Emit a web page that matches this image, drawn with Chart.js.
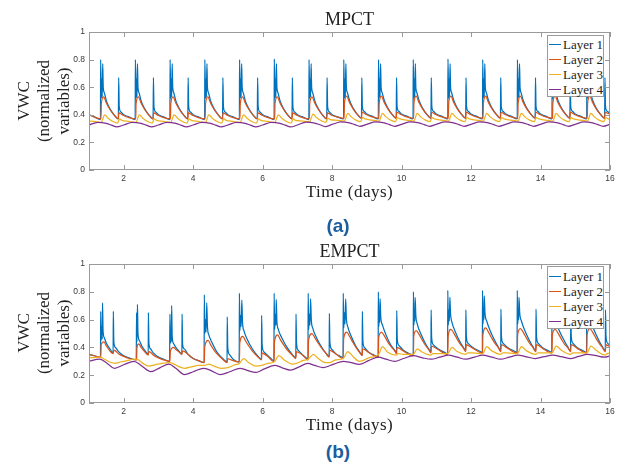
<!DOCTYPE html>
<html>
<head>
<meta charset="utf-8">
<script src="https://cdn.jsdelivr.net/npm/chart.js@4.4.0/dist/chart.umd.min.js"></script>
<style>
  body { margin: 0; width: 625px; height: 464px; background: #fff; position: relative; overflow: hidden; font-family: "Liberation Serif", serif; color: #222; }
  .wrap { position: absolute; left: 0; width: 625px; }
  .title { position: absolute; left: 89px; width: 521px; text-align: center; font-size: 18px; line-height: 18px; }
  .xlabel { position: absolute; left: 89px; width: 521px; text-align: center; font-size: 17px; line-height: 17px; letter-spacing: 0.5px; }
  .ylabel { position: absolute; width: 160px; height: 60px; text-align: center; font-size: 17px; line-height: 20px; transform: rotate(-90deg); }
  .tag { position: absolute; left: 288px; width: 100px; text-align: center; font-family: "Liberation Sans", Arial, sans-serif; font-weight: bold; font-size: 19px; line-height: 19px; color: #1b5e9e; }
  .legend { position: absolute; left: 547px; width: 57px; background: #fff; border: 1px solid #9a9a9a; box-sizing: border-box; }
  .legend .row { display: flex; align-items: center; height: 15px; }
  .legend .swatch { width: 14px; height: 1.5px; margin-left: 1px; }
  .legend .txt { margin-left: 2px; font-size: 13px; line-height: 15px; white-space: nowrap; }
</style>
</head>
<body>
<div class="wrap" style="top:0;height:190px"><canvas id="chartA" width="625" height="190"></canvas></div>
<div class="wrap" style="top:232px;height:191px"><canvas id="chartB" width="625" height="191"></canvas></div>

<div class="title" style="top:10px">MPCT</div>
<div class="xlabel" style="top:183px">Time (days)</div>
<div class="ylabel" style="left:-36px;top:71px">VWC<br>(normalized<br>variables)</div>
<div class="tag" style="top:216px">(a)</div>
<div class="legend" id="legendA" style="top:35px;height:62px;padding-top:1px"></div>

<div class="title" style="top:242px">EMPCT</div>
<div class="xlabel" style="top:416px">Time (days)</div>
<div class="ylabel" style="left:-36px;top:303px">VWC<br>(normalized<br>variables)</div>
<div class="tag" style="top:442px">(b)</div>
<div class="legend" id="legendB" style="top:266px;height:63px;padding-top:2px"></div>

<script>
const layerNames = ['Layer 1', 'Layer 2', 'Layer 3', 'Layer 4'];
const layerColors = ['#0072BD', '#D95319', '#EDB120', '#7E2F8E'];
const xTickValues = [2, 4, 6, 8, 10, 12, 14, 16];
const yTickValues = [0, 0.2, 0.4, 0.6, 0.8, 1];
const yTickLabels = ['0', '0.2', '0.4', '0.6', '0.8', '1'];

// MPCT, [time (days), VWC]
const mpctLayer1 = [
  [1.00,.40],[1.15,.385],
  [1.33,.365],[1.335,.80],[1.355,.52],[1.37,.66],[1.38,.53],[1.395,.77],[1.41,.60],[1.44,.56],[1.50,.50],[1.60,.445],[1.72,.40],[1.845,.37],[1.855,.67],[1.87,.46],[1.92,.42],[2.00,.40],[2.15,.385],
  [2.33,.365],[2.335,.80],[2.355,.52],[2.37,.66],[2.38,.53],[2.395,.77],[2.41,.60],[2.44,.56],[2.50,.50],[2.60,.445],[2.72,.40],[2.845,.37],[2.855,.67],[2.87,.46],[2.92,.42],[3.00,.40],[3.15,.385],
  [3.33,.365],[3.335,.80],[3.355,.52],[3.37,.66],[3.38,.53],[3.395,.77],[3.41,.60],[3.44,.56],[3.50,.50],[3.60,.445],[3.72,.40],[3.845,.37],[3.855,.67],[3.87,.46],[3.92,.42],[4.00,.40],[4.15,.385],
  [4.33,.365],[4.335,.80],[4.355,.52],[4.37,.66],[4.38,.53],[4.395,.77],[4.41,.60],[4.44,.56],[4.50,.50],[4.60,.445],[4.72,.40],[4.845,.37],[4.855,.67],[4.87,.46],[4.92,.42],[5.00,.40],[5.15,.385],
  [5.33,.365],[5.335,.80],[5.355,.52],[5.37,.66],[5.38,.53],[5.395,.77],[5.41,.60],[5.44,.56],[5.50,.50],[5.60,.445],[5.72,.40],[5.845,.37],[5.855,.67],[5.87,.46],[5.92,.42],[6.00,.40],[6.15,.385],
  [6.33,.365],[6.335,.805],[6.355,.52],[6.37,.66],[6.38,.53],[6.395,.77],[6.41,.60],[6.44,.56],[6.50,.50],[6.60,.445],[6.72,.40],[6.845,.37],[6.855,.67],[6.87,.46],[6.92,.42],[7.00,.40],[7.15,.385],
  [7.33,.365],[7.335,.80],[7.355,.52],[7.37,.66],[7.38,.53],[7.395,.77],[7.41,.60],[7.44,.56],[7.50,.50],[7.60,.445],[7.72,.40],[7.845,.37],[7.855,.67],[7.87,.46],[7.92,.42],[8.00,.40],[8.15,.385],
  [8.33,.37],[8.335,.80],[8.355,.52],[8.37,.66],[8.38,.53],[8.395,.77],[8.41,.60],[8.44,.56],[8.50,.505],[8.60,.45],[8.72,.405],[8.845,.375],[8.855,.67],[8.87,.46],[8.92,.425],[9.00,.405],[9.15,.39],
  [9.33,.37],[9.335,.80],[9.355,.52],[9.37,.66],[9.38,.53],[9.395,.77],[9.41,.60],[9.44,.56],[9.50,.505],[9.60,.45],[9.72,.405],[9.845,.375],[9.855,.67],[9.87,.46],[9.92,.425],[10.00,.405],[10.15,.39],
  [10.33,.37],[10.335,.80],[10.355,.52],[10.37,.66],[10.38,.53],[10.395,.77],[10.41,.60],[10.44,.56],[10.50,.505],[10.60,.45],[10.72,.405],[10.845,.375],[10.855,.67],[10.87,.46],[10.92,.425],[11.00,.405],[11.15,.39],
  [11.33,.37],[11.335,.805],[11.355,.52],[11.37,.66],[11.38,.53],[11.395,.77],[11.41,.60],[11.44,.56],[11.50,.505],[11.60,.45],[11.72,.405],[11.845,.375],[11.855,.67],[11.87,.46],[11.92,.425],[12.00,.405],[12.15,.39],
  [12.33,.37],[12.335,.80],[12.355,.52],[12.37,.66],[12.38,.53],[12.395,.77],[12.41,.60],[12.44,.56],[12.50,.505],[12.60,.45],[12.72,.405],[12.845,.375],[12.855,.67],[12.87,.46],[12.92,.425],[13.00,.405],[13.15,.39],
  [13.33,.37],[13.335,.80],[13.355,.52],[13.37,.66],[13.38,.53],[13.395,.77],[13.41,.60],[13.44,.56],[13.50,.505],[13.60,.45],[13.72,.405],[13.845,.375],[13.855,.67],[13.87,.46],[13.92,.425],[14.00,.405],[14.15,.39],
  [14.33,.37],[14.335,.80],[14.355,.52],[14.37,.66],[14.38,.53],[14.395,.77],[14.41,.60],[14.44,.56],[14.50,.505],[14.60,.45],[14.72,.405],[14.845,.375],[14.855,.67],[14.87,.46],[14.92,.425],[15.00,.405],[15.15,.39],
  [15.33,.37],[15.335,.80],[15.355,.52],[15.37,.66],[15.38,.53],[15.395,.77],[15.41,.60],[15.44,.56],[15.50,.505],[15.60,.45],[15.72,.405],[15.845,.375],[15.855,.67],[15.87,.46],[15.92,.425],[16.00,.41]
];
const mpctLayer2 = [
  [1.00,.40],[1.15,.385],
  [1.345,.37],[1.355,.48],[1.42,.53],[1.50,.485],[1.60,.44],[1.72,.40],[1.845,.37],[1.86,.415],[1.90,.41],[2.00,.395],[2.15,.38],
  [2.345,.37],[2.355,.48],[2.42,.53],[2.50,.485],[2.60,.44],[2.72,.40],[2.845,.37],[2.86,.415],[2.90,.41],[3.00,.395],[3.15,.38],
  [3.345,.37],[3.355,.48],[3.42,.53],[3.50,.485],[3.60,.44],[3.72,.40],[3.845,.37],[3.86,.415],[3.90,.41],[4.00,.395],[4.15,.38],
  [4.345,.37],[4.355,.48],[4.42,.53],[4.50,.485],[4.60,.44],[4.72,.40],[4.845,.37],[4.86,.415],[4.90,.41],[5.00,.395],[5.15,.38],
  [5.345,.37],[5.355,.48],[5.42,.53],[5.50,.485],[5.60,.44],[5.72,.40],[5.845,.37],[5.86,.415],[5.90,.41],[6.00,.395],[6.15,.38],
  [6.345,.37],[6.355,.48],[6.42,.53],[6.50,.485],[6.60,.44],[6.72,.40],[6.845,.37],[6.86,.415],[6.90,.41],[7.00,.395],[7.15,.38],
  [7.345,.37],[7.355,.48],[7.42,.53],[7.50,.485],[7.60,.44],[7.72,.40],[7.845,.37],[7.86,.415],[7.90,.41],[8.00,.395],[8.15,.385],
  [8.345,.375],[8.355,.485],[8.42,.535],[8.50,.49],[8.60,.445],[8.72,.405],[8.845,.375],[8.86,.42],[8.90,.415],[9.00,.40],[9.15,.385],
  [9.345,.375],[9.355,.485],[9.42,.535],[9.50,.49],[9.60,.445],[9.72,.405],[9.845,.375],[9.86,.42],[9.90,.415],[10.00,.40],[10.15,.385],
  [10.345,.375],[10.355,.485],[10.42,.535],[10.50,.49],[10.60,.445],[10.72,.405],[10.845,.375],[10.86,.42],[10.90,.415],[11.00,.40],[11.15,.385],
  [11.345,.375],[11.355,.485],[11.42,.535],[11.50,.49],[11.60,.445],[11.72,.405],[11.845,.375],[11.86,.42],[11.90,.415],[12.00,.40],[12.15,.385],
  [12.345,.375],[12.355,.485],[12.42,.535],[12.50,.49],[12.60,.445],[12.72,.405],[12.845,.375],[12.86,.42],[12.90,.415],[13.00,.40],[13.15,.385],
  [13.345,.375],[13.355,.485],[13.42,.535],[13.50,.49],[13.60,.445],[13.72,.405],[13.845,.375],[13.86,.42],[13.90,.415],[14.00,.40],[14.15,.385],
  [14.345,.375],[14.355,.485],[14.42,.535],[14.50,.49],[14.60,.445],[14.72,.405],[14.845,.375],[14.86,.42],[14.90,.415],[15.00,.40],[15.15,.385],
  [15.345,.375],[15.355,.485],[15.42,.535],[15.50,.49],[15.60,.445],[15.72,.405],[15.845,.375],[15.86,.42],[15.90,.415],[16.00,.405]
];
const mpctLayer3 = [
  [1.00,.355],[1.15,.352],
  [1.35,.345],[1.45,.40],[1.55,.375],[1.70,.35],[1.82,.34],[1.88,.37],[1.95,.36],[2.15,.352],
  [2.35,.345],[2.45,.40],[2.55,.375],[2.70,.35],[2.82,.34],[2.88,.37],[2.95,.36],[3.15,.352],
  [3.35,.345],[3.45,.40],[3.55,.375],[3.70,.35],[3.82,.34],[3.88,.37],[3.95,.36],[4.15,.352],
  [4.35,.345],[4.45,.40],[4.55,.375],[4.70,.35],[4.82,.34],[4.88,.37],[4.95,.36],[5.15,.352],
  [5.35,.345],[5.45,.40],[5.55,.375],[5.70,.35],[5.82,.34],[5.88,.37],[5.95,.36],[6.15,.352],
  [6.35,.345],[6.45,.40],[6.55,.375],[6.70,.35],[6.82,.34],[6.88,.37],[6.95,.36],[7.15,.355],
  [7.35,.35],[7.45,.405],[7.55,.38],[7.70,.355],[7.82,.345],[7.88,.375],[7.95,.365],[8.15,.36],
  [8.35,.355],[8.45,.41],[8.55,.385],[8.70,.36],[8.82,.35],[8.88,.38],[8.95,.37],[9.15,.362],
  [9.35,.355],[9.45,.41],[9.55,.385],[9.70,.36],[9.82,.35],[9.88,.38],[9.95,.37],[10.15,.362],
  [10.35,.355],[10.45,.41],[10.55,.385],[10.70,.36],[10.82,.35],[10.88,.38],[10.95,.37],[11.15,.362],
  [11.35,.355],[11.45,.41],[11.55,.385],[11.70,.36],[11.82,.35],[11.88,.38],[11.95,.37],[12.15,.362],
  [12.35,.355],[12.45,.41],[12.55,.385],[12.70,.36],[12.82,.35],[12.88,.38],[12.95,.37],[13.15,.362],
  [13.35,.355],[13.45,.41],[13.55,.385],[13.70,.36],[13.82,.35],[13.88,.38],[13.95,.37],[14.15,.362],
  [14.35,.355],[14.45,.41],[14.55,.385],[14.70,.36],[14.82,.35],[14.88,.38],[14.95,.37],[15.15,.362],
  [15.35,.355],[15.45,.41],[15.55,.385],[15.70,.36],[15.82,.35],[15.88,.38],[15.95,.37],[16.00,.368]
];
const mpctLayer4 = [
  [1.00,.326],
  [1.25,.345],[1.50,.338],[1.65,.325],[1.80,.312],[2.00,.326],
  [2.25,.345],[2.50,.338],[2.65,.325],[2.80,.312],[3.00,.326],
  [3.25,.345],[3.50,.338],[3.65,.325],[3.80,.312],[4.00,.326],
  [4.25,.345],[4.50,.338],[4.65,.325],[4.80,.312],[5.00,.326],
  [5.25,.345],[5.50,.338],[5.65,.325],[5.80,.312],[6.00,.326],
  [6.25,.345],[6.50,.338],[6.65,.325],[6.80,.312],[7.00,.326],
  [7.25,.347],[7.50,.34],[7.65,.328],[7.80,.315],[8.00,.33],
  [8.25,.348],[8.50,.341],[8.65,.329],[8.80,.317],[9.00,.331],
  [9.25,.348],[9.50,.341],[9.65,.329],[9.80,.317],[10.00,.331],
  [10.25,.348],[10.50,.341],[10.65,.329],[10.80,.317],[11.00,.331],
  [11.25,.348],[11.50,.341],[11.65,.329],[11.80,.317],[12.00,.331],
  [12.25,.348],[12.50,.341],[12.65,.329],[12.80,.317],[13.00,.331],
  [13.25,.348],[13.50,.341],[13.65,.329],[13.80,.317],[14.00,.331],
  [14.25,.348],[14.50,.341],[14.65,.329],[14.80,.317],[15.00,.331],
  [15.25,.348],[15.50,.341],[15.65,.329],[15.80,.317],[16.00,.331]
];

// EMPCT, [time (days), VWC]
const empctLayer1 = [
  [1.00,.35],[1.15,.34],
  [1.33,.33],[1.337,.66],[1.35,.45],[1.37,.55],[1.38,.46],[1.39,.72],[1.405,.52],[1.44,.47],[1.50,.43],[1.60,.39],[1.695,.36],[1.70,.66],[1.715,.44],[1.76,.40],[1.85,.37],[2.00,.34],[2.15,.325],
  [2.36,.31],[2.37,.65],[2.38,.44],[2.395,.71],[2.41,.50],[2.45,.45],[2.52,.41],[2.60,.38],[2.705,.35],[2.71,.65],[2.725,.43],[2.77,.39],[2.85,.36],[3.00,.33],[3.15,.315],
  [3.32,.30],[3.33,.64],[3.345,.43],[3.36,.52],[3.37,.44],[3.38,.70],[3.395,.48],[3.43,.43],[3.50,.40],[3.60,.37],[3.675,.35],[3.68,.64],[3.695,.42],[3.74,.39],[3.85,.35],[4.00,.32],[4.15,.305],
  [4.315,.29],[4.32,.78],[4.335,.50],[4.355,.60],[4.37,.51],[4.39,.72],[4.41,.55],[4.45,.49],[4.55,.43],[4.70,.36],[4.85,.32],[4.975,.295],[4.98,.62],[4.995,.40],[5.04,.35],[5.15,.315],[5.30,.295],
  [5.325,.295],[5.33,.79],[5.345,.52],[5.365,.63],[5.38,.55],[5.40,.74],[5.42,.58],[5.46,.52],[5.55,.46],[5.70,.39],[5.85,.34],[5.965,.315],[5.97,.63],[5.985,.42],[6.03,.37],[6.15,.34],[6.30,.305],
  [6.325,.30],[6.33,.79],[6.345,.53],[6.365,.64],[6.38,.56],[6.39,.745],[6.41,.59],[6.45,.53],[6.55,.47],[6.70,.40],[6.85,.35],[6.955,.325],[6.96,.64],[6.975,.43],[7.02,.38],[7.15,.345],[7.29,.315],
  [7.305,.31],[7.31,.79],[7.325,.53],[7.345,.64],[7.36,.56],[7.38,.75],[7.40,.60],[7.44,.54],[7.55,.47],[7.70,.40],[7.83,.355],[7.915,.335],[7.92,.645],[7.935,.44],[7.98,.39],[8.10,.355],[8.30,.325],
  [8.315,.32],[8.32,.79],[8.335,.54],[8.355,.65],[8.37,.57],[8.39,.75],[8.41,.61],[8.45,.55],[8.55,.48],[8.68,.41],[8.80,.365],[8.865,.345],[8.87,.66],[8.885,.45],[8.93,.40],[9.05,.365],[9.30,.335],
  [9.325,.33],[9.33,.80],[9.345,.55],[9.36,.66],[9.37,.58],[9.38,.75],[9.40,.62],[9.45,.56],[9.55,.49],[9.68,.42],[9.80,.38],[9.855,.36],[9.86,.665],[9.875,.46],[9.92,.415],[10.05,.38],[10.30,.345],
  [10.335,.34],[10.34,.80],[10.355,.56],[10.37,.67],[10.38,.59],[10.39,.76],[10.41,.63],[10.45,.57],[10.55,.50],[10.68,.43],[10.78,.39],[10.845,.365],[10.85,.67],[10.865,.47],[10.91,.42],[11.05,.39],[11.30,.355],
  [11.325,.35],[11.33,.81],[11.345,.56],[11.36,.67],[11.375,.59],[11.39,.76],[11.41,.64],[11.45,.58],[11.55,.51],[11.68,.44],[11.78,.40],[11.845,.375],[11.85,.67],[11.865,.48],[11.91,.43],[12.05,.40],[12.30,.365],
  [12.325,.36],[12.33,.81],[12.345,.57],[12.36,.68],[12.37,.60],[12.38,.77],[12.40,.65],[12.45,.59],[12.55,.52],[12.68,.45],[12.78,.405],[12.855,.375],[12.86,.675],[12.875,.48],[12.92,.43],[13.05,.40],[13.30,.365],
  [13.325,.36],[13.33,.81],[13.345,.57],[13.36,.68],[13.37,.60],[13.38,.76],[13.40,.65],[13.45,.59],[13.55,.52],[13.68,.45],[13.78,.405],[13.865,.375],[13.87,.675],[13.885,.48],[13.93,.43],[14.05,.40],[14.30,.365],
  [14.325,.36],[14.33,.80],[14.345,.57],[14.36,.68],[14.37,.60],[14.38,.76],[14.40,.64],[14.45,.58],[14.55,.515],[14.68,.45],[14.78,.405],[14.865,.375],[14.87,.67],[14.885,.48],[14.93,.43],[15.05,.40],[15.30,.365],
  [15.325,.36],[15.33,.80],[15.345,.57],[15.36,.68],[15.37,.60],[15.38,.76],[15.40,.65],[15.45,.59],[15.55,.52],[15.68,.45],[15.78,.405],[15.865,.375],[15.87,.67],[15.885,.48],[15.93,.43],[16.00,.415]
];
const empctLayer2 = [
  [1.00,.35],[1.15,.34],
  [1.34,.33],[1.35,.42],[1.43,.44],[1.50,.41],[1.60,.375],[1.695,.355],[1.71,.38],[1.76,.375],[1.85,.355],[2.00,.335],[2.15,.32],
  [2.37,.31],[2.38,.40],[2.43,.425],[2.50,.40],[2.60,.37],[2.705,.345],[2.72,.37],[2.77,.365],[2.85,.345],[3.00,.325],[3.15,.31],
  [3.33,.30],[3.34,.37],[3.43,.40],[3.50,.385],[3.60,.365],[3.675,.35],[3.69,.375],[3.75,.37],[3.85,.35],[4.00,.32],[4.15,.305],
  [4.32,.29],[4.33,.40],[4.43,.45],[4.50,.42],[4.60,.38],[4.70,.35],[4.85,.315],[4.975,.29],[4.99,.32],[5.05,.315],[5.15,.305],[5.31,.295],
  [5.33,.295],[5.34,.43],[5.43,.48],[5.50,.45],[5.60,.41],[5.70,.375],[5.85,.335],[5.965,.31],[5.98,.36],[6.03,.355],[6.15,.335],[6.31,.30],
  [6.33,.30],[6.34,.44],[6.43,.49],[6.50,.46],[6.60,.42],[6.70,.385],[6.85,.345],[6.955,.32],[6.97,.37],[7.02,.365],[7.15,.345],[7.30,.31],
  [7.31,.31],[7.32,.45],[7.42,.50],[7.50,.47],[7.60,.43],[7.70,.395],[7.83,.355],[7.915,.33],[7.93,.38],[7.98,.375],[8.10,.355],[8.31,.32],
  [8.32,.32],[8.33,.46],[8.42,.51],[8.50,.48],[8.60,.435],[8.70,.395],[8.80,.36],[8.865,.34],[8.88,.39],[8.93,.385],[9.05,.365],[9.32,.33],
  [9.33,.33],[9.34,.47],[9.42,.51],[9.50,.485],[9.60,.44],[9.70,.405],[9.80,.375],[9.855,.355],[9.87,.40],[9.92,.395],[10.05,.375],[10.33,.34],
  [10.34,.34],[10.35,.48],[10.42,.52],[10.50,.495],[10.60,.45],[10.70,.41],[10.78,.385],[10.845,.36],[10.86,.41],[10.91,.405],[11.05,.385],[11.32,.35],
  [11.33,.35],[11.34,.48],[11.42,.53],[11.50,.505],[11.60,.46],[11.70,.42],[11.78,.395],[11.845,.37],[11.86,.42],[11.91,.415],[12.05,.395],[12.32,.36],
  [12.33,.36],[12.34,.49],[12.42,.54],[12.50,.51],[12.60,.465],[12.70,.425],[12.78,.40],[12.855,.37],[12.87,.42],[12.92,.415],[13.05,.395],[13.32,.36],
  [13.33,.36],[13.34,.49],[13.42,.535],[13.50,.51],[13.60,.465],[13.70,.425],[13.78,.40],[13.865,.37],[13.88,.42],[13.93,.415],[14.05,.395],[14.32,.36],
  [14.33,.36],[14.34,.49],[14.42,.53],[14.50,.505],[14.60,.46],[14.70,.42],[14.78,.40],[14.865,.37],[14.88,.42],[14.93,.415],[15.05,.395],[15.32,.36],
  [15.33,.36],[15.34,.49],[15.42,.535],[15.50,.51],[15.60,.465],[15.70,.425],[15.78,.40],[15.865,.37],[15.88,.42],[15.93,.415],[16.00,.405]
];
const empctLayer3 = [
  [1.00,.325],[1.30,.33],[1.45,.315],[1.60,.295],[1.75,.285],[1.90,.295],[2.10,.305],[2.30,.315],
  [2.42,.31],[2.55,.285],[2.72,.265],[2.90,.275],[3.10,.285],[3.30,.29],
  [3.45,.28],[3.60,.26],[3.75,.25],[3.95,.26],[4.15,.27],[4.32,.27],
  [4.45,.28],[4.60,.265],[4.80,.25],[5.00,.255],[5.20,.275],[5.33,.285],
  [5.45,.32],[5.60,.29],[5.80,.265],[5.97,.27],[6.15,.285],[6.33,.295],
  [6.47,.34],[6.62,.31],[6.85,.28],[6.97,.285],[7.15,.305],[7.31,.315],
  [7.46,.35],[7.60,.32],[7.80,.29],[7.92,.29],[8.10,.31],[8.32,.32],
  [8.45,.37],[8.60,.335],[8.78,.30],[8.88,.305],[9.05,.325],[9.34,.35],
  [9.45,.405],[9.60,.365],[9.84,.345],[9.90,.355],[10.05,.35],[10.34,.35],
  [10.45,.39],[10.60,.365],[10.84,.345],[10.90,.355],[11.05,.355],[11.33,.355],
  [11.45,.40],[11.60,.37],[11.84,.35],[11.90,.36],[12.05,.36],[12.33,.355],
  [12.45,.405],[12.60,.375],[12.85,.35],[12.91,.36],[13.05,.36],[13.33,.355],
  [13.45,.405],[13.60,.375],[13.86,.35],[13.92,.36],[14.05,.36],[14.33,.36],
  [14.45,.41],[14.60,.38],[14.86,.35],[14.92,.36],[15.05,.36],[15.33,.36],
  [15.45,.41],[15.60,.38],[15.86,.345],[15.92,.355],[16.00,.36]
];
const empctLayer4 = [
  [1.00,.30],[1.30,.315],[1.50,.29],[1.73,.25],[2.00,.275],[2.30,.30],
  [2.50,.27],[2.78,.225],[3.05,.255],[3.30,.28],
  [3.50,.25],[3.75,.205],[4.00,.225],[4.30,.25],
  [4.50,.235],[4.78,.205],[5.05,.225],[5.35,.25],
  [5.55,.235],[5.80,.22],[6.05,.245],[6.35,.27],
  [6.55,.255],[6.80,.237],[7.05,.26],[7.30,.285],
  [7.50,.27],[7.75,.255],[8.05,.28],[8.32,.30],
  [8.55,.29],[8.78,.278],[9.05,.305],[9.33,.33],
  [9.55,.315],[9.80,.30],[10.05,.32],[10.34,.34],
  [10.60,.325],[10.85,.315],[11.10,.33],[11.35,.345],
  [11.60,.33],[11.85,.315],[12.10,.33],[12.33,.345],
  [12.60,.33],[12.85,.315],[13.10,.33],[13.35,.345],
  [13.60,.332],[13.85,.32],[14.10,.333],[14.35,.345],
  [14.60,.333],[14.85,.32],[15.10,.335],[15.35,.35],
  [15.60,.34],[15.85,.33],[16.00,.34]
];

// draws the axes box with inward ticks like matlab
const boxFrame = {
  id: 'boxFrame',
  afterDatasetsDraw(chart) {
    const { ctx, chartArea: a, scales: { x, y } } = chart;
    ctx.save();
    ctx.strokeStyle = '#9a9a9a';
    ctx.lineWidth = 1;
    ctx.strokeRect(a.left + 0.5, a.top + 0.5, a.right - a.left - 1, a.bottom - a.top - 1);
    ctx.beginPath();
    x.ticks.forEach(t => {
      const px = Math.round(x.getPixelForValue(t.value)) + 0.5;
      ctx.moveTo(px, a.bottom); ctx.lineTo(px, a.bottom - 5);
      ctx.moveTo(px, a.top); ctx.lineTo(px, a.top + 5);
    });
    y.ticks.forEach(t => {
      const py = Math.round(y.getPixelForValue(t.value)) + 0.5;
      ctx.moveTo(a.left, py); ctx.lineTo(a.left + 5, py);
      ctx.moveTo(a.right, py); ctx.lineTo(a.right - 5, py);
    });
    ctx.stroke();
    ctx.restore();
  }
};

function makeChart(id, layers) {
  const ctx = document.getElementById(id).getContext('2d');
  return new Chart(ctx, {
    type: 'line',
    data: {
      datasets: layers.map((pts, i) => ({
        label: layerNames[i],
        data: pts.map(p => ({ x: p[0], y: p[1] })),
        borderColor: layerColors[i],
        borderWidth: 1.25,
        pointRadius: 0,
        fill: false,
        cubicInterpolationMode: 'monotone',
        order: layers.length - i
      }))
    },
    options: {
      responsive: false,
      animation: false,
      devicePixelRatio: 1,
      layout: { padding: { top: 32, right: 15, left: 0, bottom: 0 } },
      plugins: { legend: { display: false }, tooltip: { enabled: false } },
      scales: {
        x: {
          type: 'linear', min: 1, max: 16,
          grid: { display: false, drawTicks: false },
          border: { display: false },
          afterBuildTicks: s => { s.ticks = xTickValues.map(v => ({ value: v })); },
          afterFit: s => { s.height = 20; },
          ticks: { padding: 4, color: '#3a3a3a', font: { family: 'Liberation Sans', size: 8.5 }, maxRotation: 0, callback: v => String(v) }
        },
        y: {
          min: 0, max: 1,
          grid: { display: false, drawTicks: false },
          border: { display: false },
          afterBuildTicks: s => { s.ticks = yTickValues.map(v => ({ value: v })); },
          afterFit: s => { s.width = 89; },
          ticks: { padding: 4, color: '#3a3a3a', font: { family: 'Liberation Sans', size: 8.5 }, callback: (v, i) => yTickLabels[i] }
        }
      }
    },
    plugins: [boxFrame]
  });
}

function makeLegend(id) {
  const box = document.getElementById(id);
  layerNames.forEach((name, i) => {
    const row = document.createElement('div');
    row.className = 'row';
    row.innerHTML = `<span class="swatch" style="background:${layerColors[i]}"></span><span class="txt">${name}</span>`;
    box.appendChild(row);
  });
}

makeChart('chartA', [mpctLayer1, mpctLayer2, mpctLayer3, mpctLayer4]);
makeChart('chartB', [empctLayer1, empctLayer2, empctLayer3, empctLayer4]);
makeLegend('legendA');
makeLegend('legendB');
</script>
</body>
</html>
